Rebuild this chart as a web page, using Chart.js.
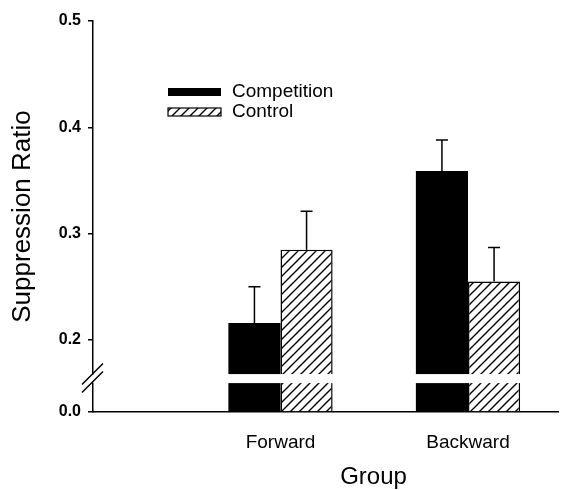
<!DOCTYPE html>
<html>
<head>
<meta charset="utf-8">
<script src="https://cdn.jsdelivr.net/npm/chart.js@4.4.1/dist/chart.umd.min.js"></script>
<style>
    html, body { margin: 0; padding: 0; background: #fff; }
    #wrap { width: 568px; height: 490px; }
</style>
</head>
<body>
<div id="wrap"><canvas id="chart"></canvas></div>
<script>
// Data
const groups = ['Forward', 'Backward'];
const groupPos = [1, 2];
const competition = [0.216, 0.359];
const competitionErr = [0.034, 0.029];
const control = [0.285, 0.255];
const controlErr = [0.036, 0.032];
const yTicks = [0.0, 0.2, 0.3, 0.4, 0.5];

// Axis break settings
const BREAK_AT = 0.168;    // upper segment starts here
const GAP_FROM = 0.128;    // white cut through the bars
const LOWER_FRAC = 0.097;  // share of axis height given to 0..BREAK_AT

const FONT = 'Arial, "Liberation Sans", Helvetica, sans-serif';

// Hatch pattern for the control bars
function makeHatch() {
    const c = document.createElement('canvas');
    c.width = 9; c.height = 9;
    const g = c.getContext('2d');
    g.fillStyle = '#fff';
    g.fillRect(0, 0, 9, 9);
    g.strokeStyle = '#000';
    g.lineWidth = 1.4;
    g.beginPath();
    g.moveTo(-1, 10); g.lineTo(10, -1);
    g.moveTo(-1, 1); g.lineTo(1, -1);
    g.moveTo(8, 10); g.lineTo(10, 8);
    g.stroke();
    return g.createPattern(c, 'repeat');
}
const hatch = makeHatch();

// Linear scale with a break near the bottom
const LinearScale = Chart.LinearScale || Chart.registry.getScale('linear');
class BrokenScale extends LinearScale {
    getPixelForValue(v) {
        const h = this.bottom - this.top;
        const lowH = h * LOWER_FRAC;
        if (v <= BREAK_AT) {
            return this.bottom - (v - this.min) / (BREAK_AT - this.min) * lowH;
        }
        return this.bottom - lowH - (v - BREAK_AT) / (this.max - BREAK_AT) * (h - lowH);
    }
    getValueForPixel(p) {
        const h = this.bottom - this.top;
        const lowH = h * LOWER_FRAC;
        const brk = this.bottom - lowH;
        if (p >= brk) return this.min + (this.bottom - p) / lowH * (BREAK_AT - this.min);
        return BREAK_AT + (brk - p) / (h - lowH) * (this.max - BREAK_AT);
    }
}
BrokenScale.id = 'broken';
BrokenScale.defaults = {};
Chart.register(BrokenScale);

// Cut through the bars + break marks on the axis
const breakPlugin = {
    id: 'breakPlugin',
    afterDatasetsDraw(chart) {
        const { ctx, chartArea } = chart;
        const y = chart.scales.y;
        const yTop = y.getPixelForValue(BREAK_AT);
        const yBot = y.getPixelForValue(GAP_FROM);
        ctx.save();
        ctx.fillStyle = '#fff';
        ctx.fillRect(chartArea.left + 2, yTop, chartArea.right - chartArea.left - 2, yBot - yTop);

        const ax = chartArea.left;
        const cy = (yTop + yBot) / 2;
        ctx.fillRect(ax - 2, cy - 4, 4, 8);
        ctx.strokeStyle = '#000';
        ctx.lineWidth = 1.5;
        ctx.beginPath();
        [-4, 4].forEach(d => {
            ctx.moveTo(ax - 11, cy + d + 10);
            ctx.lineTo(ax + 10, cy + d - 11);
        });
        ctx.stroke();
        ctx.restore();
    }
};

// Upward error bars
const errorPlugin = {
    id: 'errorPlugin',
    afterDatasetsDraw(chart) {
        const { ctx } = chart;
        const y = chart.scales.y;
        ctx.save();
        ctx.strokeStyle = '#000';
        ctx.lineWidth = 1.5;
        chart.data.datasets.forEach((ds, i) => {
            const meta = chart.getDatasetMeta(i);
            meta.data.forEach((bar, j) => {
                const top = y.getPixelForValue(ds.data[j].y + ds.errors[j]);
                ctx.beginPath();
                ctx.moveTo(bar.x, bar.y);
                ctx.lineTo(bar.x, top);
                ctx.moveTo(bar.x - 6, top);
                ctx.lineTo(bar.x + 6, top);
                ctx.stroke();
            });
        });
        ctx.restore();
    }
};

// Legend inside the plot + x axis title
const legendPlugin = {
    id: 'legendPlugin',
    afterDraw(chart) {
        const { ctx, chartArea } = chart;
        const x0 = chartArea.left + 75;
        let y0 = chartArea.top + 71;
        ctx.save();
        ctx.font = '19px ' + FONT;
        ctx.textBaseline = 'middle';
        chart.data.datasets.forEach(ds => {
            ctx.fillStyle = ds.backgroundColor;
            ctx.fillRect(x0, y0 - 4, 53, 8);
            if (ds.borderWidth) {
                ctx.strokeStyle = '#000';
                ctx.lineWidth = 1.2;
                ctx.strokeRect(x0, y0 - 4, 53, 8);
            }
            ctx.fillStyle = '#000';
            ctx.fillText(ds.label, x0 + 64, y0);
            y0 += 20;
        });

        ctx.font = '24px ' + FONT;
        ctx.textAlign = 'center';
        ctx.fillText('Group', (chartArea.left + chartArea.right) / 2 + 48, 477);
        ctx.restore();
    }
};

new Chart(document.getElementById('chart'), {
    type: 'bar',
    data: {
        datasets: [
            {
                label: 'Competition',
                data: groupPos.map((x, i) => ({ x: x, y: competition[i] })),
                errors: competitionErr,
                backgroundColor: '#000',
                borderWidth: 0
            },
            {
                label: 'Control',
                data: groupPos.map((x, i) => ({ x: x, y: control[i] })),
                errors: controlErr,
                backgroundColor: hatch,
                borderColor: '#000',
                borderWidth: 1.5
            }
        ]
    },
    options: {
        responsive: true,
        maintainAspectRatio: false,
        animation: false,
        categoryPercentage: 0.556,
        barPercentage: 1.0,
        layout: { padding: { top: 21, right: 10, left: 0, bottom: 0 } },
        plugins: {
            legend: { display: false },
            tooltip: { enabled: false }
        },
        scales: {
            x: {
                type: 'linear',
                min: 0,
                max: 2.48,
                offset: false,
                afterBuildTicks: s => { s.ticks = groupPos.map(v => ({ value: v })); },
                afterFit: s => { s.height = 78; },
                grid: { display: false, offset: false },
                border: { display: true, color: '#000', width: 1.5 },
                ticks: {
                    color: '#000',
                    padding: 11,
                    font: { family: FONT, size: 19 },
                    callback: v => groups[groupPos.indexOf(v)]
                }
            },
            y: {
                type: 'broken',
                min: 0,
                max: 0.5,
                afterBuildTicks: s => { s.ticks = yTicks.map(v => ({ value: v })); },
                afterFit: s => { s.width = 93; },
                grid: {
                    drawOnChartArea: false,
                    drawTicks: true,
                    tickLength: 5,
                    color: '#000',
                    lineWidth: 1.5
                },
                border: { display: true, color: '#000', width: 1.5 },
                ticks: {
                    color: '#000',
                    padding: 7,
                    font: { family: FONT, size: 16, weight: 'bold' },
                    callback: v => v.toFixed(1)
                },
                title: {
                    display: true,
                    text: 'Suppression Ratio',
                    color: '#000',
                    padding: { top: 7, bottom: 0 },
                    font: { family: FONT, size: 26 }
                }
            }
        }
    },
    plugins: [breakPlugin, errorPlugin, legendPlugin]
});
</script>
</body>
</html>
